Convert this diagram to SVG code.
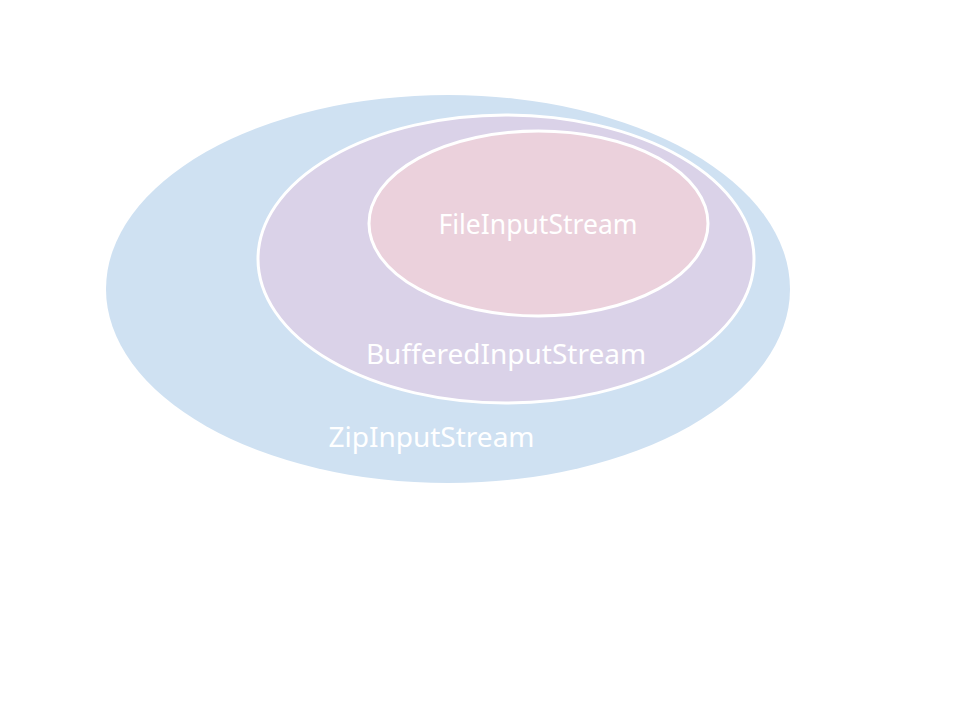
<svg xmlns="http://www.w3.org/2000/svg" width="960" height="720" viewBox="0 0 960 720">
<style>
.lbl{font-family:"Noto Sans","Open Sans","DejaVu Sans",sans-serif;font-size:28px;fill:#ffffff;text-anchor:middle}
.ring{stroke:#ffffff;stroke-width:3}
</style>
<rect width="960" height="720" fill="#ffffff"/>
<g id="zip">
<ellipse cx="448" cy="289" rx="342" ry="194" fill="#cfe1f2"/>
<text class="lbl" x="431.5" y="447">ZipInputStream</text>
</g>
<g id="buffered">
<ellipse class="ring" cx="506" cy="259" rx="248" ry="144" fill="#dad2e8"/>
<text class="lbl" x="506" y="364">BufferedInputStream</text>
</g>
<g id="file">
<ellipse class="ring" cx="538.5" cy="223.5" rx="169.5" ry="92.5" fill="#ebd1dc"/>
<text class="lbl" x="538" y="234" style="font-size:26.5px">FileInputStream</text>
</g>
<g id="connectors"/>
</svg>
